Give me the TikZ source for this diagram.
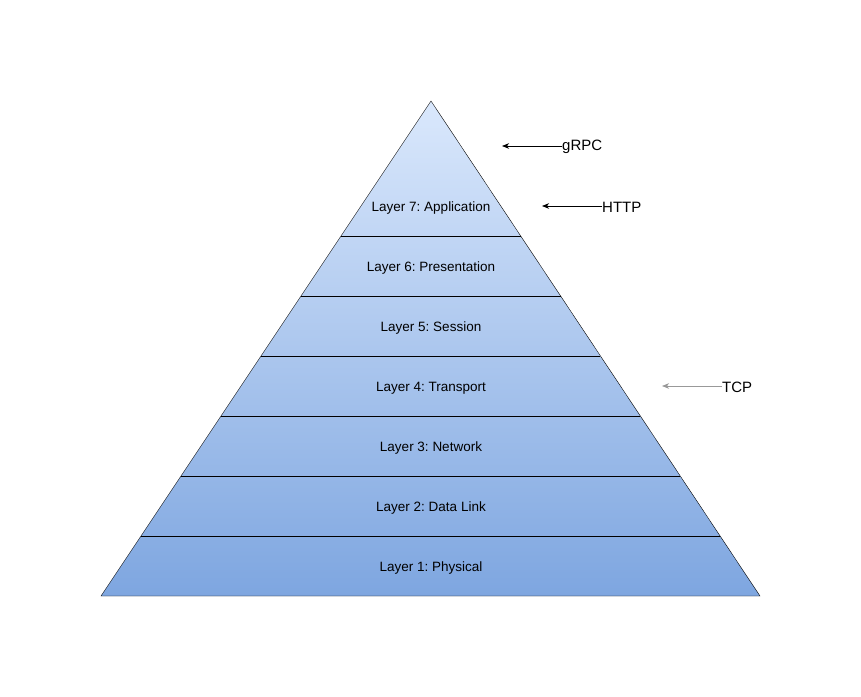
\documentclass[tikz,border=0pt]{standalone}
\usepackage{fontspec}
\setmainfont{Liberation Sans}
\usetikzlibrary{positioning,arrows.meta}
\definecolor{layertop}{HTML}{DAE8FC}
\definecolor{layerbot}{HTML}{7EA6E0}
\definecolor{tcpgray}{HTML}{999999}
\frenchspacing

\begin{document}
\begin{tikzpicture}[x=1pt,y=-1pt,
    layerlabel/.style={font=\fontsize{13.5}{16}\selectfont},
    protolabel/.style={anchor=west,inner sep=0pt,font=\fontsize{15}{18}\selectfont},
    protoarrow/.style={-{Stealth[length=7pt,width=5.5pt,inset=2pt]},line width=0.8pt}]
    \useasboundingbox (0,0) rectangle (861,696);
    % pyramid
    \shade[top color=layertop,bottom color=layerbot] (431,101) -- (760,596) -- (101,596) -- cycle;
    \draw (431,101) -- (760,596) -- (101,596) -- cycle;
    \foreach \y in {236,296,...,536}
        \draw ({431-(\y-101)*0.6667},\y) -- ({431+(\y-101)*0.6646},\y);
    % layer names
    \node[layerlabel] (app) at (431,208) {Layer 7: Application};
    \node[layerlabel] (pres) at (431,268) {Layer 6: Presentation};
    \node[layerlabel] (sess) at (431,328) {Layer 5: Session};
    \node[layerlabel] (trans) at (431,388) {Layer 4: Transport};
    \node[layerlabel] (net) at (431,448) {Layer 3: Network};
    \node[layerlabel] (link) at (431,508) {Layer 2: Data Link};
    \node[layerlabel] (phys) at (431,568) {Layer 1: Physical};
    % protocols
    \node[protolabel] (grpc) at (562,147) {gRPC};
    \node[protolabel] (http) at (602,207) {HTTP};
    \node[protolabel] (tcp) at (722,387) {TCP};
    \coordinate (grpcend) at (502,146);
    \coordinate (httpend) at (542,206);
    \coordinate (tcpend) at (662,386);
    \draw[protoarrow] (grpc.west |- grpcend) -- (grpcend);
    \draw[protoarrow] (http.west |- httpend) -- (httpend);
    \draw[protoarrow,tcpgray] (tcp.west |- tcpend) -- (tcpend);
\end{tikzpicture}
\end{document}
